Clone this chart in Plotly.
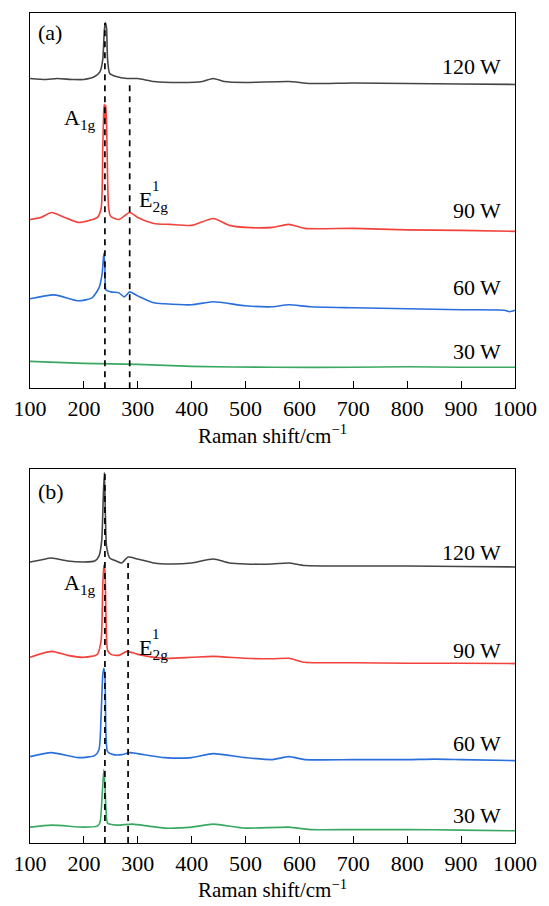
import plotly.graph_objects as go

# ---------------- data (intensity, a.u., stacked as displayed) ----------------
# Panel (a)
xa_120 = [100,130,150,180,200,220,230,235,238,240,242,244,248,260,280,300,330,380,420,440,460,500,580,620,700,800,900,1000]
ya_120 = [312,311,312,311,311,314,319,331,361,368,363,331,317,314,312,312,309,308,309,312,309,308,309,307,307.5,307,306.5,306]
xa_90 = [100,120,140,160,190,210,225,232,235,237,238,239,240,241,243,246,250,265,285,300,330,360,400,440,470,500,550,580,610,700,800,900,1000]
ya_90 = [170,172,177,173,167,169,172,181,241,281,286,271,283,285,241,181,173,170,177,172,166,165,164,171,164,162,162,165,161,161,159.5,159,158]
xa_60 = [100,145,190,215,228,234,237,239,241,250,265,275,285,300,330,350,400,440,500,550,580,620,700,800,900,980,990,1000]
ya_60 = [90,94,88,91,101,116,136,121,99,97,96,92,97,93,86,85,84,87,83,82,84,82,81,80,79,78.5,77,78.5]
xa_30 = [100,200,300,400,550,700,800,900,1000]
ya_30 = [27,25,24,22,21,21,21.5,21,21]

# Panel (b)
xb_120 = [100,120,140,170,200,220,228,233,236,238,240,242,248,260,270,282,300,330,360,400,440,470,500,550,580,610,700,800,900,1000]
yb_120 = [283,285,287,284,283,284,289,304,349,373,329,299,287,284,282,288,286,282,281,282,286,282,281,281,282,279.5,279,279,278.5,278]
xb_90 = [100,140,170,200,225,232,235,237,239,241,244,250,265,280,300,350,400,440,500,550,580,610,700,800,900,1000]
yb_90 = [187,193,189,187,190,204,259,280,274,229,194,190,189,193,190,186,187,188,186,185.5,186,182,181.5,181,181,180.7]
xb_60 = [100,140,190,220,228,232,235,237,239,241,244,255,270,285,300,350,400,440,500,550,580,610,700,800,850,900,1000]
yb_60 = [87,91,86,88,94,129,169,176,169,109,92,89,89,91,90,86,86,90,86,84,87,84,84,84,84.5,84,83]
xb_30 = [100,140,200,225,230,234,237,239,241,244,260,290,320,350,400,440,500,580,620,700,800,900,1000]
yb_30 = [16,18,16,17,21,49,74,59,34,20,18,19,17,15,16,19,15,16,13.5,13.5,13.5,13,12.3]

power_labels = ["120 W", "90 W", "60 W", "30 W"]
label_y_a = [324, 179, 101, 37]
label_y_b = [293, 194, 100, 28]

# Reference mode positions (cm^-1) and dashed-line tops
a1g_a, e2g_a = 239, 285
a1g_b, e2g_b = 239, 282
a1g_top_a, e2g_top_a = 368, 309
a1g_top_b, e2g_top_b = 373, 282

x_ticks = [100, 200, 300, 400, 500, 600, 700, 800, 900, 1000]

colors = ["#454545", "#f2423c", "#2a6fdc", "#3aa862"]
FONT = "Liberation Serif, Times New Roman, serif"

fig = go.Figure()

def add_panel(xs, ys, xaxis, yaxis):
    for x, y, c in zip(xs, ys, colors):
        fig.add_trace(go.Scatter(x=x, y=y, mode="lines",
                                 line=dict(color=c, width=1.6, shape="spline", smoothing=0.6),
                                 xaxis=xaxis, yaxis=yaxis, showlegend=False, hoverinfo="skip"))

add_panel([xa_120, xa_90, xa_60, xa_30], [ya_120, ya_90, ya_60, ya_30], "x", "y")
add_panel([xb_120, xb_90, xb_60, xb_30], [yb_120, yb_90, yb_60, yb_30], "x2", "y2")

def dashed(x, top, xaxis, yaxis):
    fig.add_trace(go.Scatter(x=[x, x], y=[0, top], mode="lines",
                             line=dict(color="black", width=1.7, dash="6px,5px"),
                             xaxis=xaxis, yaxis=yaxis, showlegend=False, hoverinfo="skip"))

dashed(a1g_a, a1g_top_a, "x", "y")
dashed(e2g_a, e2g_top_a, "x", "y")
dashed(a1g_b, a1g_top_b, "x2", "y2")
dashed(e2g_b, e2g_top_b, "x2", "y2")

annotations = []
def ann(text, x, y, xref, yref, xanchor="left", size=22):
    annotations.append(dict(text=text, x=x, y=y, xref=xref, yref=yref, showarrow=False,
                            xanchor=xanchor, yanchor="middle",
                            font=dict(family=FONT, size=size, color="black")))

for lab, ya, yb in zip(power_labels, label_y_a, label_y_b):
    ann(lab, 977, ya, "x", "y", "right")
    ann(lab, 977, yb, "x2", "y2", "right")

ann("(a)", 112, 358, "x", "y")
ann("(b)", 112, 354, "x2", "y2")

ann("A<sub>1g</sub>", 226, 271, "x", "y", "right")
ann("A<sub>1g</sub>", 226, 261, "x2", "y2", "right")
ann("E<sub>2g</sub>", 298, 189, "x", "y")
ann("1", 322, 204, "x", "y", size=15)
ann("E<sub>2g</sub>", 298, 195, "x2", "y2")
ann("1", 322, 210, "x2", "y2", size=15)

xaxis_common = dict(range=[100, 1000], tickvals=x_ticks, ticks="inside", ticklen=7, tickwidth=1.2,
                    tickcolor="black", showline=True, linecolor="black", linewidth=1.3, mirror=True,
                    showgrid=False, zeroline=False,
                    tickfont=dict(family=FONT, size=22, color="black"))
yaxis_common = dict(showticklabels=False, ticks="", showline=True, linecolor="black", linewidth=1.3,
                    mirror=True, showgrid=False, zeroline=False)

title_text = "Raman shift/cm<sup>\u22121</sup>"

fig.update_layout(
    width=549, height=906,
    margin=dict(l=30, r=27, t=13, b=57),
    paper_bgcolor="white", plot_bgcolor="white",
    xaxis=dict(**xaxis_common, anchor="y",
               title=dict(text=title_text, font=dict(family=FONT, size=21, color="black"), standoff=4)),
    yaxis=dict(**yaxis_common, domain=[0.548, 1.0], range=[0, 378], anchor="x"),
    xaxis2=dict(**xaxis_common, anchor="y2",
                title=dict(text=title_text, font=dict(family=FONT, size=21, color="black"), standoff=4)),
    yaxis2=dict(**yaxis_common, domain=[0.0, 0.451], range=[0, 377], anchor="x2"),
    annotations=annotations,
)

fig.write_html("out.html")
